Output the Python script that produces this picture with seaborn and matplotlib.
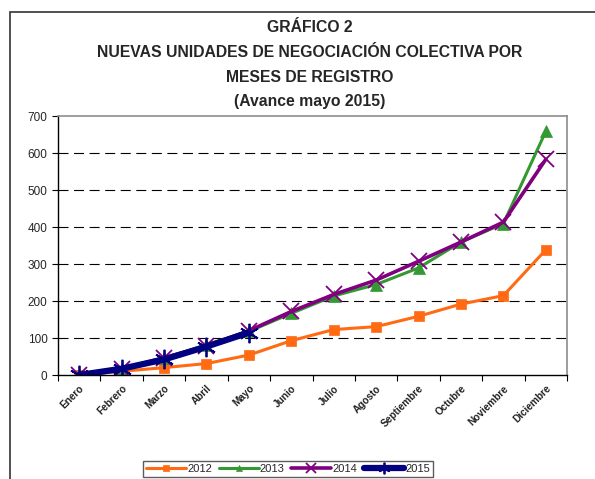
import matplotlib
matplotlib.use("Agg")
import matplotlib.pyplot as plt
import matplotlib.patches as mpatches
import seaborn as sns
import pandas as pd

months = ["Enero", "Febrero", "Marzo", "Abril", "Mayo", "Junio", "Julio",
          "Agosto", "Septiembre", "Octubre", "Noviembre", "Diciembre"]
v2012 = [0, 10, 20, 31, 54, 93, 123, 131, 159, 192, 215, 339]
v2013 = [0, 15, 45, 82, 118, 167, 214, 245, 290, 360, 410, 660]
v2014 = [0, 17, 47, 78, 120, 172, 218, 257, 308, 360, 414, 584]
v2015 = [0, 17, 42, 77, 115]

series = [
    ("2012", v2012, "#FF6A13", "s", 7, 2.2),
    ("2013", v2013, "#339933", "^", 8, 2.2),
    ("2014", v2014, "#800080", "x", 11, 2.6),
    ("2015", v2015, "#000080", (6, 2, 0), 14, 4.5),
]

sns.set_style("white")
plt.rcParams["font.family"] = ["Liberation Sans", "DejaVu Sans"]

fig = plt.figure(figsize=(5.95, 4.79), dpi=100)
ax = fig.add_axes([0.0975, 0.2171, 0.8555, 0.5397])

for name, vals, color, marker, ms, lw in series:
    df = pd.DataFrame({"x": range(len(vals)), "y": vals})
    sns.lineplot(data=df, x="x", y="y", ax=ax, color=color, marker=marker,
                 markersize=ms, linewidth=lw, label=name,
                 markeredgecolor=color, markeredgewidth=1.3 if marker in ("x", (6, 2, 0)) else 0.5)

ax.set_xlim(-0.5, 11.5)
ax.set_ylim(0, 700)
ax.set_yticks(range(0, 701, 100))
ax.set_xticks(range(12))
ax.set_xticklabels(months, rotation=45, ha="right", rotation_mode="anchor",
                   fontsize=7.2, fontweight="bold", color="#222222")
ax.set_xticks([i - 0.5 for i in range(13)], minor=True)
ax.tick_params(axis="x", which="major", length=0, pad=6)
ax.tick_params(axis="x", which="minor", length=4, width=0.8, color="black", direction="out", bottom=True)
ax.tick_params(axis="y", length=4, width=0.8, color="black", direction="out", left=True, labelsize=8.5)
ax.set_xlabel("")
ax.set_ylabel("")

for y in range(100, 700, 100):
    ax.axhline(y, color="black", linestyle=(0, (9, 5)), linewidth=0.8, zorder=0)

for side in ["top", "right"]:
    ax.spines[side].set_color("#8c8c8c")
    ax.spines[side].set_linewidth(1.2)
for side in ["left", "bottom"]:
    ax.spines[side].set_color("black")
    ax.spines[side].set_linewidth(1.0)

titles = ["GRÁFICO 2", "NUEVAS UNIDADES DE NEGOCIACIÓN COLECTIVA POR",
          "MESES DE REGISTRO", "(Avance mayo 2015)"]
for i, t in enumerate(titles):
    fig.text(310 / 595, 1 - (28 + 24.5 * i) / 479, t, ha="center", va="center",
             fontsize=11.3, fontweight="bold",
             family=["Liberation Sans Narrow", "Liberation Sans", "DejaVu Sans"])

leg = ax.legend(loc="upper center", bbox_to_anchor=(0.484, 0.05),
                bbox_transform=fig.transFigure, ncol=4, fontsize=8,
                frameon=True, fancybox=False, handlelength=3.6, handletextpad=0.1,
                columnspacing=0.6, borderpad=0.3, markerscale=0.6)
leg.get_frame().set_edgecolor("#333333")
leg.get_frame().set_linewidth(1.0)

fig.patches.append(mpatches.Rectangle((10 / 595, -0.2), 1.5, 1.2 - 12 / 479,
                                      transform=fig.transFigure, fill=False,
                                      edgecolor="#333333", linewidth=1.2, clip_on=False))

fig.savefig("out.png", dpi=100)
